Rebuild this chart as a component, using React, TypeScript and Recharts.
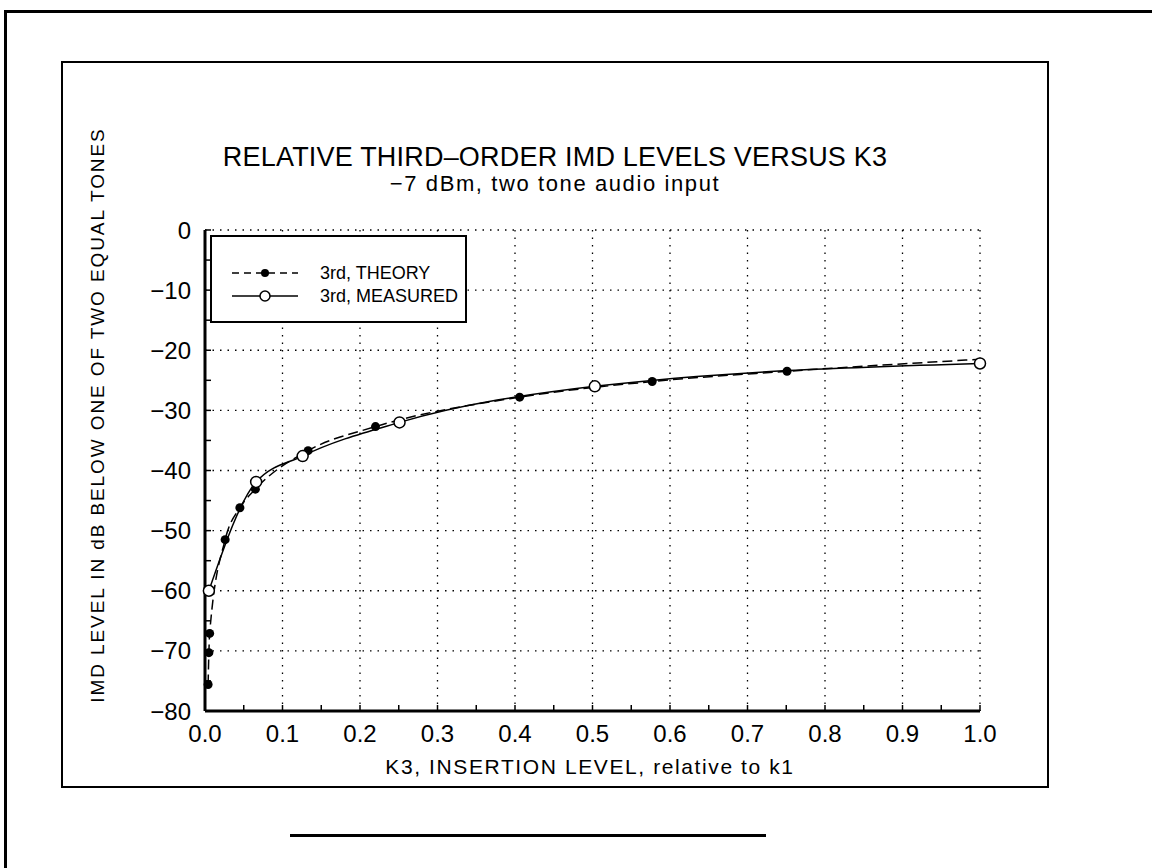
import { LineChart, Line, XAxis, YAxis, CartesianGrid } from "recharts";

// K3 insertion level (relative to k1) and IMD level in dB
const theoryK3 = [0.004, 0.005, 0.006, 0.026, 0.045, 0.065, 0.133, 0.22, 0.406, 0.577, 0.751, 1.0];
const theoryDb = [-75.6, -70.3, -67.1, -51.5, -46.2, -43.1, -36.7, -32.7, -27.8, -25.2, -23.5, -21.5];
const measuredK3 = [0.005, 0.066, 0.126, 0.251, 0.503, 1.0];
const measuredDb = [-60.0, -41.9, -37.6, -32.0, -26.0, -22.2];

const xTicks = [0, 0.05, 0.1, 0.15, 0.2, 0.25, 0.3, 0.35, 0.4, 0.45, 0.5, 0.55, 0.6, 0.65, 0.7, 0.75, 0.8, 0.85, 0.9, 0.95, 1.0];
const xMajor = [0, 0.1, 0.2, 0.3, 0.4, 0.5, 0.6, 0.7, 0.8, 0.9, 1.0];
const yTicks = [-80, -75, -70, -65, -60, -55, -50, -45, -40, -35, -30, -25, -20, -15, -10, -5, 0];
const yMajor = [-80, -70, -60, -50, -40, -30, -20, -10, 0];

const theory = theoryK3.map((k, i) => ({ k, db: theoryDb[i] }));
const measured = measuredK3.map((k, i) => ({ k, db: measuredDb[i] }));

const FONT = '"Liberation Sans", Arial, sans-serif';

const fmtX = (v: number) => (Math.round(v * 100) % 10 === 0 ? v.toFixed(1) : "");
const fmtY = (v: number) => (v % 10 === 0 ? (v < 0 ? `\u2212${-v}` : `${v}`) : "");

const TheoryDot = (props: any) => {
  const { cx, cy, index } = props;
  if (index === theory.length - 1) return <g key={`td-${index}`} />;
  return <circle key={`td-${index}`} cx={cx} cy={cy} r={4.5} fill="#000" />;
};

export default function App() {
  const tickStyle = { fill: "#000", fontSize: 24, fontFamily: FONT };
  return (
    <div style={{ position: "absolute", left: 0, top: 0, width: 1152, height: 868, background: "#fff", overflow: "hidden" }}>
      {/* page frames */}
      <div style={{ position: "absolute", left: 4, top: 10, width: 1160, height: 870, borderLeft: "3px solid #000", borderTop: "3px solid #000" }} />
      <div style={{ position: "absolute", left: 61, top: 61, width: 984, height: 723, border: "2px solid #000" }} />
      <div style={{ position: "absolute", left: 290, top: 834, width: 476, height: 2.5, background: "#000" }} />

      <div style={{ position: "absolute", left: 0, top: 0 }}>
        <LineChart width={1152} height={868} margin={{ top: 230, right: 172, bottom: 117, left: 145 }}>
          <CartesianGrid
            xAxisId="b"
            yAxisId="l"
            verticalValues={xMajor}
            horizontalValues={yMajor}
            stroke="#000"
            strokeWidth={1.3}
            strokeDasharray="1.5 6"
          />
          <XAxis
            xAxisId="b"
            dataKey="k"
            type="number"
            domain={[0, 1]}
            ticks={xTicks}
            interval={0}
            tickFormatter={fmtX}
            tick={tickStyle}
            tickSize={-6}
            tickMargin={20}
            height={40}
            axisLine={{ stroke: "#000", strokeWidth: 3 }}
            tickLine={{ stroke: "#000", strokeWidth: 1.5 }}
          />
          <XAxis
            xAxisId="t"
            orientation="top"
            type="number"
            domain={[0, 1]}
            ticks={xTicks}
            interval={0}
            mirror
            height={0}
            tick={false}
            tickSize={5}
            axisLine={{ stroke: "#000", strokeWidth: 2 }}
            tickLine={{ stroke: "#000", strokeWidth: 1.5 }}
          />
          <YAxis
            yAxisId="l"
            type="number"
            domain={[-80, 0]}
            ticks={yTicks}
            interval={0}
            tickFormatter={fmtY}
            tick={tickStyle}
            tickSize={-6}
            tickMargin={20}
            width={60}
            axisLine={{ stroke: "#000", strokeWidth: 3 }}
            tickLine={{ stroke: "#000", strokeWidth: 1.5 }}
          />
          <YAxis
            yAxisId="r"
            orientation="right"
            type="number"
            domain={[-80, 0]}
            ticks={yTicks}
            interval={0}
            mirror
            width={0}
            tick={false}
            tickSize={6}
            axisLine={{ stroke: "#000", strokeWidth: 2.5 }}
            tickLine={{ stroke: "#000", strokeWidth: 1.5 }}
          />
          <Line
            xAxisId="b"
            yAxisId="l"
            data={theory}
            dataKey="db"
            type="monotone"
            stroke="#000"
            strokeWidth={1.5}
            strokeDasharray="10 5"
            dot={TheoryDot}
            activeDot={false}
            isAnimationActive={false}
          />
          <Line
            xAxisId="b"
            yAxisId="l"
            data={measured}
            dataKey="db"
            type="monotone"
            stroke="#000"
            strokeWidth={1.5}
            dot={{ r: 5.5, fill: "#fff", stroke: "#000", strokeWidth: 1.5 }}
            activeDot={false}
            isAnimationActive={false}
          />
        </LineChart>
      </div>

      <svg width={1152} height={868} style={{ position: "absolute", left: 0, top: 0, pointerEvents: "none" }}>
        <text x={555} y={166} textAnchor="middle" fontFamily={FONT} fontSize={27} letterSpacing={0.2} fill="#000">
          RELATIVE THIRD–ORDER IMD LEVELS VERSUS K3
        </text>
        <text x={555} y={191} textAnchor="middle" fontFamily={FONT} fontSize={22} letterSpacing={1.6} fill="#000">
          −7 dBm, two tone audio input
        </text>
        <text x={590} y={774} textAnchor="middle" fontFamily={FONT} fontSize={21} letterSpacing={1.6} fill="#000">
          K3, INSERTION LEVEL, relative to k1
        </text>
        <text
          transform="translate(104, 415) rotate(-90)"
          textAnchor="middle"
          fontFamily={FONT}
          fontSize={19}
          letterSpacing={1.9}
          fill="#000"
        >
          IMD LEVEL IN dB BELOW ONE OF TWO EQUAL TONES
        </text>
      </svg>

      <div style={{ position: "absolute", left: 210, top: 235, width: 253, height: 84, border: "2px solid #000", background: "#fff", fontFamily: FONT, fontSize: 18, whiteSpace: "nowrap" }}>
        <div style={{ position: "absolute", left: 20, top: 25, height: 22, display: "flex", alignItems: "center" }}>
          <svg width={70} height={14}>
            <line x1={0} y1={7} x2={66} y2={7} stroke="#000" strokeWidth={1.5} strokeDasharray="7 5" />
            <circle cx={33} cy={7} r={4} fill="#000" />
          </svg>
          <span style={{ marginLeft: 18 }}>3rd, THEORY</span>
        </div>
        <div style={{ position: "absolute", left: 20, top: 48, height: 22, display: "flex", alignItems: "center" }}>
          <svg width={70} height={14}>
            <line x1={0} y1={7} x2={66} y2={7} stroke="#000" strokeWidth={1.5} />
            <circle cx={33} cy={7} r={5} fill="#fff" stroke="#000" strokeWidth={1.5} />
          </svg>
          <span style={{ marginLeft: 18 }}>3rd, MEASURED</span>
        </div>
      </div>
    </div>
  );
}
